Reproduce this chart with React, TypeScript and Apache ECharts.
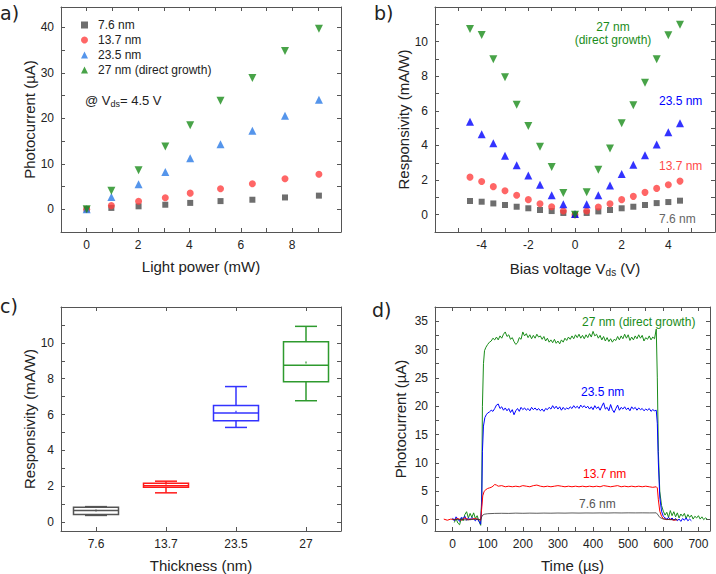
import React, { useEffect, useRef } from "react";
import * as echarts from "echarts";

// ---------- Panel a: photocurrent vs light power ----------
const aPower = [0, 0.96, 2.02, 3.06, 4.03, 5.21, 6.45, 7.72, 9.04];
const a76 = [0, 0.3, 0.65, 1.0, 1.4, 1.8, 2.1, 2.6, 3.0];
const a137 = [0, 0.8, 1.75, 2.55, 3.55, 4.5, 5.6, 6.7, 7.7];
const a235 = [0, 2.7, 5.5, 8.2, 11.2, 14.3, 17.3, 20.6, 24.1];
const a27 = [0, 4.1, 8.6, 13.8, 18.5, 23.9, 28.9, 34.8, 39.7];
const legendNames = ["7.6 nm", "13.7 nm", "23.5 nm", "27 nm (direct growth)"];

// ---------- Panel b: responsivity vs bias ----------
const bVoltage = [-4.5, -4, -3.5, -3, -2.5, -2, -1.5, -1, -0.5, 0, 0.5, 1, 1.5, 2, 2.5, 3, 3.5, 4, 4.5];
const b76 = [0.79, 0.75, 0.65, 0.56, 0.46, 0.37, 0.27, 0.21, 0.1, 0, 0.1, 0.19, 0.27, 0.37, 0.46, 0.56, 0.67, 0.73, 0.81];
const b137 = [2.17, 1.92, 1.62, 1.38, 1.12, 0.87, 0.63, 0.46, 0.21, 0, 0.21, 0.44, 0.63, 0.87, 1.06, 1.29, 1.52, 1.73, 1.94];
const b235 = [5.37, 4.65, 4.13, 3.4, 2.85, 2.27, 1.73, 1.12, 0.6, 0.04, 0.6, 1.12, 1.69, 2.35, 2.88, 3.44, 4.06, 4.77, 5.29];
const b27 = [10.73, 10.38, 8.98, 7.94, 6.35, 5.13, 3.92, 2.75, 1.25, 0, 1.3, 2.6, 3.83, 5.29, 6.33, 7.62, 8.98, 10.37, 10.98];

// ---------- Panel c: responsivity box plot ----------
const cThickness = ["7.6", "13.7", "23.5", "27"];
const cLow = [0.37, 1.63, 5.28, 6.77];
const cQ1 = [0.42, 1.94, 5.65, 7.83];
const cMedian = [0.64, 2.02, 6.09, 8.75];
const cQ3 = [0.83, 2.17, 6.5, 10.06];
const cHigh = [0.86, 2.28, 7.56, 10.92];
const cMean = [0.65, 2.05, 6.15, 8.9];

// ---------- Panel d: transient photocurrent ----------
const dGreen = [
  [5, -0.5], [10, 0.2], [15, -0.6], [20, -0.9], [25, 0.3], [30, -0.2], [35, 0.9], [40, 1.4], [45, 0.3], [50, 1.1],
  [55, 0.4], [60, 1.2], [65, 0.2], [70, 0.7], [75, -0.2], [80, -1.0],
  [83, 4], [85, 20], [88, 27.5], [91, 29.8], [95, 30.4], [100, 30.9], [105, 31.3], [110, 31.5], [115, 32.0], [120, 31.7],
  [125, 32.2], [130, 31.7], [135, 32.4], [140, 32.0], [145, 32.7], [150, 33.1], [155, 32.3], [160, 32.6], [165, 31.8],
  [170, 32.1], [175, 31.4], [180, 30.9], [185, 31.2], [190, 32.1], [195, 31.8], [200, 33.1], [205, 32.4], [210, 32.8],
  [215, 32.1], [220, 32.6], [225, 31.9], [230, 32.5], [235, 32.0], [240, 32.7], [245, 32.2], [250, 32.4], [255, 31.8],
  [260, 32.3], [265, 31.5], [270, 32.0], [275, 31.3], [280, 31.7], [285, 31.2], [290, 31.8], [295, 31.1], [300, 31.5],
  [305, 31.0], [310, 31.7], [315, 31.3], [320, 32.0], [325, 31.6], [330, 32.2], [335, 31.8], [340, 32.4], [345, 31.9],
  [350, 32.6], [355, 32.1], [360, 32.7], [365, 32.0], [370, 32.5], [375, 31.9], [380, 32.6], [385, 32.1], [390, 32.8],
  [395, 32.2], [400, 33.2], [405, 32.4], [410, 32.7], [415, 32.0], [420, 32.5], [425, 31.7], [430, 32.3], [435, 31.5],
  [440, 32.1], [445, 31.4], [450, 31.9], [455, 31.3], [460, 31.8], [465, 31.6], [470, 32.3], [475, 31.7], [480, 32.4],
  [485, 31.9], [490, 32.7], [495, 32.0], [500, 32.6], [505, 31.6], [510, 32.2], [515, 31.7], [520, 32.4], [525, 31.9],
  [530, 32.6], [535, 32.0], [540, 32.5], [545, 31.5], [550, 32.1], [555, 31.8], [560, 32.4], [565, 31.7], [570, 32.2],
  [575, 31.9], [580, 33.6],
  [583, 25], [586, 12], [590, 5], [595, 2.5], [600, 1.5], [605, 0.8], [610, 1.3], [615, 0.4], [620, 1.6], [625, 0.7],
  [630, 1.4], [635, 0.5], [640, 1.2], [645, 0.3], [650, 1.0], [655, 0.6], [660, 1.1], [665, 0.2], [670, 0.9], [675, 0.4],
  [680, 0.8], [685, 0.1], [690, 0.6], [695, 0.3], [700, 0.7], [705, 0.1], [710, 0.5], [715, 0.0], [720, 0.3], [725, 0.1],
];
const dBlue = [
  [0, 0.3], [5, -0.2], [10, 0.5], [15, 0.1], [20, -0.3], [25, 0.4], [30, 0.2], [35, 0.6], [40, -0.1], [45, 0.3],
  [50, 0.0], [55, 0.4], [60, 0.1], [65, -0.2], [70, 0.2], [75, -0.3], [80, -0.8],
  [83, 3], [85, 12], [88, 16.5], [92, 18], [96, 18.5], [100, 18.8], [105, 19.0], [110, 19.3], [115, 19.1], [120, 19.6],
  [125, 20.2], [130, 20.4], [135, 19.6], [140, 19.9], [145, 19.3], [150, 19.7], [155, 19.2], [160, 19.6], [165, 18.9],
  [170, 19.4], [175, 18.5], [180, 19.2], [185, 19.6], [190, 19.1], [195, 19.8], [200, 19.4], [205, 19.7], [210, 19.3],
  [215, 19.6], [220, 19.2], [225, 19.8], [230, 19.4], [235, 19.7], [240, 19.3], [245, 19.6], [250, 19.2], [255, 19.5],
  [260, 19.1], [265, 19.6], [270, 19.4], [275, 19.8], [280, 19.5], [285, 20.1], [290, 19.6], [295, 20.0], [300, 19.5],
  [305, 19.9], [310, 19.3], [315, 19.8], [320, 19.4], [325, 19.7], [330, 19.5], [335, 19.9], [340, 19.6], [345, 20.1],
  [350, 19.7], [355, 20.0], [360, 19.6], [365, 20.2], [370, 19.8], [375, 20.1], [380, 19.7], [385, 20.0], [390, 19.5],
  [395, 19.9], [400, 19.4], [405, 20.1], [410, 19.6], [415, 19.9], [420, 19.3], [425, 20.0], [430, 20.6], [435, 19.5],
  [440, 19.8], [445, 19.2], [450, 20.3], [455, 19.4], [460, 18.9], [465, 19.6], [470, 20.2], [475, 19.3], [480, 19.8],
  [485, 19.5], [490, 19.9], [495, 19.4], [500, 19.7], [505, 19.2], [510, 19.9], [515, 19.5], [520, 19.8], [525, 19.3],
  [530, 19.7], [535, 19.4], [540, 19.6], [545, 19.2], [550, 19.5], [555, 19.3], [560, 19.6], [565, 19.1], [570, 19.4],
  [575, 19.2], [580, 19.3],
  [583, 17], [586, 10], [590, 4], [595, 1.5], [600, 0.6], [605, 0.3], [610, 0.1], [615, 0.4], [620, 0.0], [625, 0.3],
  [630, -0.1], [635, 0.2], [640, -0.2], [645, 0.1], [650, -0.3], [655, 0.2], [660, -0.1], [665, 0.3], [670, -0.2],
  [675, 0.1], [680, -0.2],
];
const dRed = [
  [-25, 0.1], [-15, -0.1], [-5, 0.1], [5, 0.0], [15, 0.2], [25, -0.1], [35, 0.3], [45, 0.0], [55, 0.1], [65, 0.2],
  [75, 0.0], [80, -0.1],
  [83, 2], [86, 4.2], [90, 5.0], [95, 5.3], [100, 5.5], [105, 5.6], [110, 5.7], [115, 5.9], [120, 6.2], [125, 6.1],
  [130, 5.9], [140, 6.0], [150, 5.8], [160, 5.9], [170, 5.8], [180, 5.9], [190, 5.8], [200, 6.0], [210, 5.9],
  [220, 5.8], [230, 6.0], [240, 6.1], [250, 5.9], [260, 5.8], [270, 5.9], [280, 5.8], [290, 5.9], [300, 6.0],
  [310, 5.9], [320, 5.8], [330, 5.9], [340, 5.8], [350, 5.9], [360, 5.8], [370, 5.9], [380, 5.8], [390, 5.9],
  [400, 5.8], [410, 5.9], [420, 5.8], [430, 6.0], [440, 5.9], [450, 5.8], [460, 5.9], [470, 6.0], [480, 5.8],
  [490, 5.9], [500, 5.8], [510, 5.9], [520, 5.8], [530, 5.9], [540, 5.8], [550, 5.9], [560, 5.8], [570, 5.7],
  [580, 5.8],
  [583, 5.6], [586, 3.5], [590, 1.5], [595, 0.6], [600, 0.2], [610, 0.0], [620, 0.1], [630, -0.1], [640, 0.0],
];
const dBlack = [
  [0, 0.0], [20, 0.05], [40, -0.05], [60, 0.05], [80, 0.0],
  [83, 0.5], [86, 0.8], [90, 0.95], [100, 1.05], [120, 1.1], [140, 1.12], [160, 1.1], [180, 1.15], [200, 1.12],
  [220, 1.15], [240, 1.13], [260, 1.16], [280, 1.14], [300, 1.17], [320, 1.15], [340, 1.18], [360, 1.16],
  [380, 1.18], [400, 1.17], [420, 1.19], [440, 1.17], [460, 1.2], [480, 1.18], [500, 1.2], [520, 1.19],
  [540, 1.2], [560, 1.19], [580, 1.2],
  [583, 1.0], [590, 0.4], [600, 0.1], [620, 0.0], [640, 0.0],
];

const FONT = "Liberation Sans, Arial, sans-serif";
const AXIS_COLOR = "#555";
const TEXT_COLOR = "#222";

function valueAxis(gridIndex: number, pos: string, min: number, max: number, ticks: number[], labels: number[] | null, name: string, nameGap: number, extra: any = {}) {
  return {
    type: "value",
    gridIndex,
    position: pos,
    min,
    max,
    name,
    nameLocation: "middle",
    nameGap,
    nameTextStyle: { fontSize: 15, color: TEXT_COLOR, fontFamily: FONT, ...(extra.nameTextStyle || {}) },
    axisLine: { show: true, onZero: false, lineStyle: { color: AXIS_COLOR, width: 1 } },
    axisTick: { show: true, inside: true, length: 4, customValues: ticks, lineStyle: { color: AXIS_COLOR } },
    axisLabel: labels
      ? { show: true, customValues: labels, fontSize: 12, color: TEXT_COLOR, fontFamily: FONT, margin: 7 }
      : { show: false },
    splitLine: { show: false },
    minorTick: { show: false },
  };
}

function catAxis(gridIndex: number, pos: string, showLabel: boolean, name: string, nameGap: number) {
  return {
    type: "category",
    gridIndex,
    position: pos,
    data: cThickness,
    boundaryGap: true,
    name,
    nameLocation: "middle",
    nameGap,
    nameTextStyle: { fontSize: 15, color: TEXT_COLOR, fontFamily: FONT },
    axisLine: { show: true, onZero: false, lineStyle: { color: AXIS_COLOR, width: 1 } },
    axisTick: { show: true, inside: true, length: 4, alignWithLabel: true, lineStyle: { color: AXIS_COLOR } },
    axisLabel: showLabel ? { show: true, fontSize: 12, color: TEXT_COLOR, fontFamily: FONT, margin: 7 } : { show: false },
    splitLine: { show: false },
  };
}

const pairs = (xs: number[], ys: number[]) => xs.map((x, i) => [x, ys[i]]);

const aTicksX = [0, 1, 2, 3, 4, 5, 6, 7, 8, 9];
const aLabelsX = [0, 2, 4, 6, 8];
const aTicksY = [0, 5, 10, 15, 20, 25, 30, 35, 40];
const aLabelsY = [0, 10, 20, 30, 40];
const bTicksX = [-5, -4, -3, -2, -1, 0, 1, 2, 3, 4, 5];
const bLabelsX = [-4, -2, 0, 2, 4];
const bTicksY = [0, 1, 2, 3, 4, 5, 6, 7, 8, 9, 10, 11];
const bLabelsY = [0, 2, 4, 6, 8, 10];
const cTicksY = [0, 1, 2, 3, 4, 5, 6, 7, 8, 9, 10, 11];
const cLabelsY = [0, 2, 4, 6, 8, 10];
const dTicksX = [0, 50, 100, 150, 200, 250, 300, 350, 400, 450, 500, 550, 600, 650, 700];
const dLabelsX = [0, 100, 200, 300, 400, 500, 600, 700];
const dTicksY = [0, 2.5, 5, 7.5, 10, 12.5, 15, 17.5, 20, 22.5, 25, 27.5, 30, 32.5, 35];
const dLabelsY = [0, 5, 10, 15, 20, 25, 30, 35];

const GRAY = "#4a4a4a";
const RED_A = "#ff4040";
const BLUE_A = "#2a7be6";
const BLUE_B = "#0000ff";
const GREEN = "#1a8c1a";

const boxColors = ["#555555", "#ff1a1a", "#3333ff", "#2e9a2e"];

export default function App() {
  const ref = useRef<HTMLDivElement>(null);
  useEffect(() => {
    if (!ref.current) return;
    const chart = echarts.init(ref.current, null, { renderer: "svg" });
    const subRich = { sub: { fontSize: 10, fontFamily: FONT, color: TEXT_COLOR, padding: [8, 0, 0, 0] } };

    const option: any = {
      animation: false,
      backgroundColor: "#fff",
      textStyle: { fontFamily: FONT },
      grid: [
        { left: 61, top: 7, width: 280, height: 225 },
        { left: 435, top: 7, width: 280, height: 225 },
        { left: 61, top: 307, width: 280, height: 225 },
        { left: 435, top: 307, width: 275, height: 225 },
      ],
      xAxis: [
        valueAxis(0, "bottom", -1, 9.9, aTicksX, aLabelsX, "Light power (mW)", 27),
        valueAxis(0, "top", -1, 9.9, aTicksX, null, "", 0),
        valueAxis(1, "bottom", -6, 6, bTicksX, bLabelsX, "Bias voltage V{sub|ds} (V)", 27, { nameTextStyle: { rich: subRich } }),
        valueAxis(1, "top", -6, 6, bTicksX, null, "", 0),
        catAxis(2, "bottom", true, "Thickness (nm)", 27),
        catAxis(2, "top", false, "", 0),
        valueAxis(3, "bottom", -50, 733, dTicksX, dLabelsX, "Time (µs)", 27),
        valueAxis(3, "top", -50, 733, dTicksX, null, "", 0),
      ],
      yAxis: [
        valueAxis(0, "left", -5, 44.5, aTicksY, aLabelsY, "Photocurrent (µA)", 22),
        valueAxis(0, "right", -5, 44.5, aTicksY, null, "", 0),
        valueAxis(1, "left", -1, 12, bTicksY, bLabelsY, "Responsivity (mA/W)", 23),
        valueAxis(1, "right", -1, 12, bTicksY, null, "", 0),
        valueAxis(2, "left", -0.5, 12, cTicksY, cLabelsY, "Responsivity (mA/W)", 23),
        valueAxis(2, "right", -0.5, 12, cTicksY, null, "", 0),
        valueAxis(3, "left", -2, 37.5, dTicksY, dLabelsY, "Photocurrent (µA)", 27),
        valueAxis(3, "right", -2, 37.5, dTicksY, null, "", 0),
      ],
      legend: {
        data: legendNames,
        orient: "vertical",
        left: 81,
        top: 19,
        padding: 0,
        itemWidth: 7,
        itemHeight: 7,
        itemGap: 3,
        selectedMode: false,
        textStyle: { fontSize: 12, color: TEXT_COLOR, fontFamily: FONT, padding: [0, 0, 0, 5] },
      },
      series: [
        { name: legendNames[0], type: "scatter", xAxisIndex: 0, yAxisIndex: 0, symbol: "rect", symbolSize: 6, itemStyle: { color: GRAY }, data: pairs(aPower, a76) },
        { name: legendNames[1], type: "scatter", xAxisIndex: 0, yAxisIndex: 0, symbol: "circle", symbolSize: 7, itemStyle: { color: RED_A }, data: pairs(aPower, a137) },
        { name: legendNames[2], type: "scatter", xAxisIndex: 0, yAxisIndex: 0, symbol: "triangle", symbolSize: 8, itemStyle: { color: BLUE_A }, data: pairs(aPower, a235) },
        { name: legendNames[3], type: "scatter", xAxisIndex: 0, yAxisIndex: 0, symbol: "triangle", symbolRotate: 180, symbolSize: 8, itemStyle: { color: GREEN }, data: pairs(aPower, a27) },

        { name: "b 7.6", type: "scatter", xAxisIndex: 2, yAxisIndex: 2, symbol: "rect", symbolSize: 6, itemStyle: { color: GRAY }, data: pairs(bVoltage, b76) },
        { name: "b 13.7", type: "scatter", xAxisIndex: 2, yAxisIndex: 2, symbol: "circle", symbolSize: 7, itemStyle: { color: RED_A }, data: pairs(bVoltage, b137) },
        { name: "b 23.5", type: "scatter", xAxisIndex: 2, yAxisIndex: 2, symbol: "triangle", symbolSize: 8, itemStyle: { color: BLUE_B }, data: pairs(bVoltage, b235) },
        { name: "b 27", type: "scatter", xAxisIndex: 2, yAxisIndex: 2, symbol: "triangle", symbolRotate: 180, symbolSize: 8, itemStyle: { color: GREEN }, data: pairs(bVoltage, b27) },

        {
          name: "c box",
          type: "custom",
          xAxisIndex: 4,
          yAxisIndex: 4,
          encode: { x: 0, y: [1, 2, 3, 4, 5] },
          data: cThickness.map((_, i) => [i, cLow[i], cQ1[i], cMedian[i], cQ3[i], cHigh[i], cMean[i]]),
          renderItem: (params: any, api: any) => {
            const i = api.value(0);
            const color = boxColors[i];
            const pLow = api.coord([i, api.value(1)]);
            const pQ1 = api.coord([i, api.value(2)]);
            const pMed = api.coord([i, api.value(3)]);
            const pQ3 = api.coord([i, api.value(4)]);
            const pHigh = api.coord([i, api.value(5)]);
            const pMean = api.coord([i, api.value(6)]);
            const cx = pMed[0];
            const hw = 22.5;
            const cap = 11;
            const st = { stroke: color, lineWidth: 1.5, fill: null };
            return {
              type: "group",
              children: [
                { type: "rect", shape: { x: cx - hw, y: pQ3[1], width: hw * 2, height: pQ1[1] - pQ3[1] }, style: { ...st, fill: "rgba(255,255,255,0)" } },
                { type: "line", shape: { x1: cx - hw, y1: pMed[1], x2: cx + hw, y2: pMed[1] }, style: st },
                { type: "line", shape: { x1: cx, y1: pQ3[1], x2: cx, y2: pHigh[1] }, style: st },
                { type: "line", shape: { x1: cx, y1: pQ1[1], x2: cx, y2: pLow[1] }, style: st },
                { type: "line", shape: { x1: cx - cap, y1: pHigh[1], x2: cx + cap, y2: pHigh[1] }, style: st },
                { type: "line", shape: { x1: cx - cap, y1: pLow[1], x2: cx + cap, y2: pLow[1] }, style: st },
                { type: "rect", shape: { x: cx - 1, y: pMean[1] - 1, width: 2, height: 2 }, style: { fill: color, opacity: 0.6 } },
              ],
            };
          },
        },

        { name: "d 27", type: "line", xAxisIndex: 6, yAxisIndex: 6, showSymbol: false, lineStyle: { color: GREEN, width: 1 }, itemStyle: { color: GREEN }, data: dGreen },
        { name: "d 23.5", type: "line", xAxisIndex: 6, yAxisIndex: 6, showSymbol: false, lineStyle: { color: BLUE_B, width: 1 }, itemStyle: { color: BLUE_B }, data: dBlue },
        { name: "d 13.7", type: "line", xAxisIndex: 6, yAxisIndex: 6, showSymbol: false, lineStyle: { color: "#ff0000", width: 1 }, itemStyle: { color: "#ff0000" }, data: dRed },
        { name: "d 7.6", type: "line", xAxisIndex: 6, yAxisIndex: 6, showSymbol: false, lineStyle: { color: "#333", width: 0.8 }, itemStyle: { color: "#333" }, data: dBlack },
      ],
      graphic: [
        { type: "text", left: 0, top: 3, style: { text: "a)", fontSize: 19, fontFamily: "DejaVu Sans", fill: "#222" } },
        { type: "text", left: 374, top: 3, style: { text: "b)", fontSize: 19, fontFamily: "DejaVu Sans", fill: "#222" } },
        { type: "text", left: 0, top: 296, style: { text: "c)", fontSize: 19, fontFamily: "DejaVu Sans", fill: "#222" } },
        { type: "text", left: 372, top: 300, style: { text: "d)", fontSize: 19, fontFamily: "DejaVu Sans", fill: "#222" } },
        {
          type: "text", x: 85, y: 100,
          style: {
            text: "@ V{s|ds}= 4.5 V", fontSize: 13, fontFamily: FONT, fill: TEXT_COLOR, verticalAlign: "middle",
            rich: { s: { fontSize: 9, fontFamily: FONT, fill: TEXT_COLOR, padding: [7, 0, 0, 0] } },
          },
        },
        { type: "text", x: 613, y: 27, style: { text: "27 nm", fontSize: 12, fontFamily: FONT, fill: GREEN, align: "center", verticalAlign: "middle" } },
        { type: "text", x: 613, y: 40, style: { text: "(direct growth)", fontSize: 12, fontFamily: FONT, fill: GREEN, align: "center", verticalAlign: "middle" } },
        { type: "text", x: 659, y: 101, style: { text: "23.5 nm", fontSize: 12, fontFamily: FONT, fill: BLUE_B, verticalAlign: "middle" } },
        { type: "text", x: 659, y: 166, style: { text: "13.7 nm", fontSize: 12, fontFamily: FONT, fill: "#ff4a4a", verticalAlign: "middle" } },
        { type: "text", x: 659, y: 219, style: { text: "7.6 nm", fontSize: 12, fontFamily: FONT, fill: "#666", verticalAlign: "middle" } },
        { type: "text", x: 582, y: 322, style: { text: "27 nm (direct growth)", fontSize: 12, fontFamily: FONT, fill: GREEN, verticalAlign: "middle" } },
        { type: "text", x: 581, y: 392, style: { text: "23.5 nm", fontSize: 12, fontFamily: FONT, fill: BLUE_B, verticalAlign: "middle" } },
        { type: "text", x: 583, y: 474, style: { text: "13.7 nm", fontSize: 12, fontFamily: FONT, fill: "#ff0000", verticalAlign: "middle" } },
        { type: "text", x: 579, y: 504, style: { text: "7.6 nm", fontSize: 12, fontFamily: FONT, fill: "#555", verticalAlign: "middle" } },
      ],
    };
    chart.setOption(option);
    return () => chart.dispose();
  }, []);
  return <div ref={ref} style={{ position: "fixed", left: 0, top: 0, width: 716, height: 574, background: "#fff" }} />;
}
